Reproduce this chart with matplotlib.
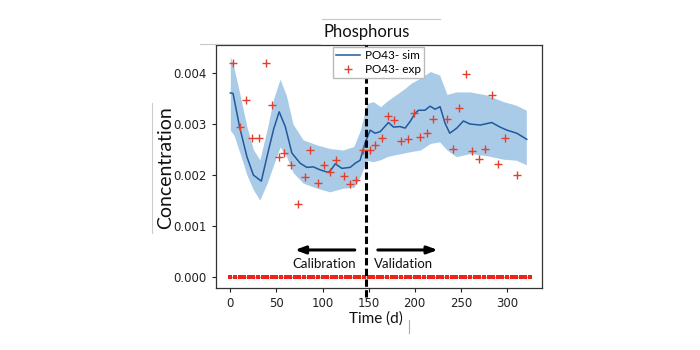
import numpy as np
import matplotlib
matplotlib.use("Agg")
import matplotlib.pyplot as plt
from matplotlib.lines import Line2D

# ---- data ----
sim_t = [0, 3, 10, 18, 25, 33.6, 41.5, 47, 53, 59.6, 66.8, 75.8, 83, 90, 97.5, 106.5,
         110, 113.8, 121, 130, 135.4, 140.8, 146, 151.7, 157, 162.5, 171.5, 177, 184,
         189.6, 195, 200.4, 204, 211, 216.7, 222, 227.5, 233, 238, 245.6, 252.8, 260,
         271, 283.5, 292.5, 300, 310.6, 321.5]
sim_v = [0.00361, 0.00360, 0.00295, 0.00236, 0.00200, 0.00188, 0.00249, 0.00290, 0.00324,
         0.00295, 0.00243, 0.00223, 0.00215, 0.00216, 0.00210, 0.00205, 0.00212, 0.00222,
         0.00213, 0.00215, 0.00223, 0.00229, 0.00262, 0.00288, 0.00282, 0.00285, 0.00303,
         0.00294, 0.00295, 0.00292, 0.00305, 0.00321, 0.00327, 0.00327, 0.00335, 0.00329,
         0.00334, 0.00301, 0.00282, 0.00292, 0.00306, 0.00300, 0.00298, 0.00303, 0.00294,
         0.00288, 0.00282, 0.00270]

band_t = [0, 4, 11, 18, 25, 32, 40, 47, 54, 61, 68, 79, 94, 108, 122, 134, 141, 148, 155,
          163, 170, 177, 188, 196, 206, 217, 227, 235, 245, 260, 278, 296, 310, 321]
band_hi = [0.00433, 0.00410, 0.00354, 0.00295, 0.00250, 0.00230, 0.00290, 0.00350, 0.00388,
           0.00355, 0.00300, 0.00269, 0.00259, 0.00252, 0.00249, 0.00256, 0.00288, 0.00340,
           0.00344, 0.00334, 0.00345, 0.00354, 0.00368, 0.00380, 0.00390, 0.00403, 0.00396,
           0.00358, 0.00363, 0.00363, 0.00357, 0.00344, 0.00337, 0.00327]
band_lo = [0.00288, 0.00278, 0.00240, 0.00200, 0.00171, 0.00151, 0.00184, 0.00220, 0.00255,
           0.00236, 0.00205, 0.00184, 0.00174, 0.00167, 0.00174, 0.00176, 0.00197, 0.00229,
           0.00226, 0.00230, 0.00236, 0.00239, 0.00243, 0.00246, 0.00249, 0.00262, 0.00265,
           0.00249, 0.00236, 0.00242, 0.00238, 0.00231, 0.00229, 0.00220]

exp_t = [3, 10, 17, 24, 31, 38.6, 45, 52.4, 58.5, 66, 73, 80.5, 86.7, 94.6, 101.5, 108.3,
         114.8, 122.8, 129.3, 136, 143.7, 151, 157, 164, 171.5, 178, 185, 193, 199.7, 206,
         213.4, 220, 234.8, 241, 248, 255.7, 262.5, 269.4, 276, 283.5, 290, 298, 311]
exp_v = [0.00419, 0.00295, 0.00348, 0.00273, 0.00273, 0.00419, 0.00337, 0.00236, 0.00243,
         0.00220, 0.00143, 0.00196, 0.00250, 0.00184, 0.00219, 0.00205, 0.00229, 0.00199,
         0.00182, 0.00190, 0.00249, 0.00249, 0.00259, 0.00272, 0.00316, 0.00308, 0.00267,
         0.00270, 0.00321, 0.00274, 0.00283, 0.00310, 0.00310, 0.00252, 0.00331, 0.00398,
         0.00248, 0.00232, 0.00251, 0.00357, 0.00222, 0.00272, 0.00200]

zero_t = np.arange(0, 326, 5)
zero_v = np.zeros(len(zero_t))

split_day = 147
xticks = [0, 50, 100, 150, 200, 250, 300]
yticks = [0.000, 0.001, 0.002, 0.003, 0.004]

FONT = ["Lato", "DejaVu Sans"]

# ---- figure ----
fig = plt.figure(figsize=(7, 3.5), dpi=100)
ax = fig.add_axes([216/700, 1-288/350, 326/700, 243/350])

ax.fill_between(band_t, band_lo, band_hi, color="#a6c9e6", alpha=0.95, linewidth=0)
ax.plot(sim_t, sim_v, color="#1f5a9e", lw=1.1, label="PO43- sim")
ax.plot(exp_t, exp_v, linestyle="none", marker="+", color="#e0402e",
        markersize=6, mew=1.0, label="PO43- exp")
ax.plot(zero_t, zero_v, color="#f4907f", lw=0.9, marker="s", markersize=3.4,
        markerfacecolor="#ee2418", markeredgewidth=0, zorder=3)

ax.set_xlim(-15.5, 338)
ax.set_ylim(-0.000216, 0.00455)
ax.set_xticks(xticks)
ax.set_yticks(yticks)
ax.set_yticklabels([f"{v:.3f}" for v in yticks])
ax.tick_params(labelsize=8.5, colors="#222222", length=3)
for s in ax.spines.values():
    s.set_color("#333333")
    s.set_linewidth(0.9)

# split line (extends slightly below axis)
ax.plot([split_day, split_day], [-0.00040, 0.00455], color="black", lw=2.2,
        linestyle=(0, (2.4, 1.1)), clip_on=False, zorder=4)

# arrows
ax.annotate("", xy=(67, 0.00053), xytext=(138, 0.00053),
            arrowprops=dict(arrowstyle="-|>,head_length=0.6,head_width=0.22",
                            color="black", lw=2.2))
ax.annotate("", xy=(228, 0.00053), xytext=(157, 0.00053),
            arrowprops=dict(arrowstyle="-|>,head_length=0.6,head_width=0.22",
                            color="black", lw=2.2))
ax.text(102, 0.000255, "Calibration", ha="center", va="center", fontsize=9.5,
        color="#111111", family=FONT)
ax.text(188, 0.000255, "Validation", ha="center", va="center", fontsize=9.5,
        color="#111111", family=FONT)

leg = ax.legend(loc="upper left", bbox_to_anchor=(0.358, 0.992), borderaxespad=0,
                prop={"family": FONT, "size": 8.5},
                frameon=True, fancybox=False, framealpha=1, edgecolor="#bbbbbb",
                handlelength=2.0, borderpad=0.3, labelspacing=0.2, handletextpad=0.4)

# labels
fig.text(367/700, 1-32/350, "Phosphorus", ha="center", va="center", fontsize=12,
         color="#111111", family=FONT)
fig.text(166/700, 1-168/350, "Concentration", ha="center", va="center", fontsize=14,
         rotation=90, color="#111111", family=FONT)
fig.text(376/700, 1-319/350, "Time (d)", ha="center", va="center", fontsize=11,
         color="#111111", family=FONT)

# faint frame lines present in the reference image
fig.add_artist(Line2D([322/700, 440/700], [1-19/350, 1-19/350], color="#c8c8c8", lw=0.8))
fig.add_artist(Line2D([200/700, 320/700], [1-44/350, 1-44/350], color="#c8c8c8", lw=0.8))
fig.add_artist(Line2D([152/700, 152/700], [1-103/350, 1-233/350], color="#cccccc", lw=0.8))
fig.add_artist(Line2D([409/700, 409/700], [1-320/350, 1-333/350], color="#aaaaaa", lw=0.8))

fig.savefig("out.png", dpi=100)
